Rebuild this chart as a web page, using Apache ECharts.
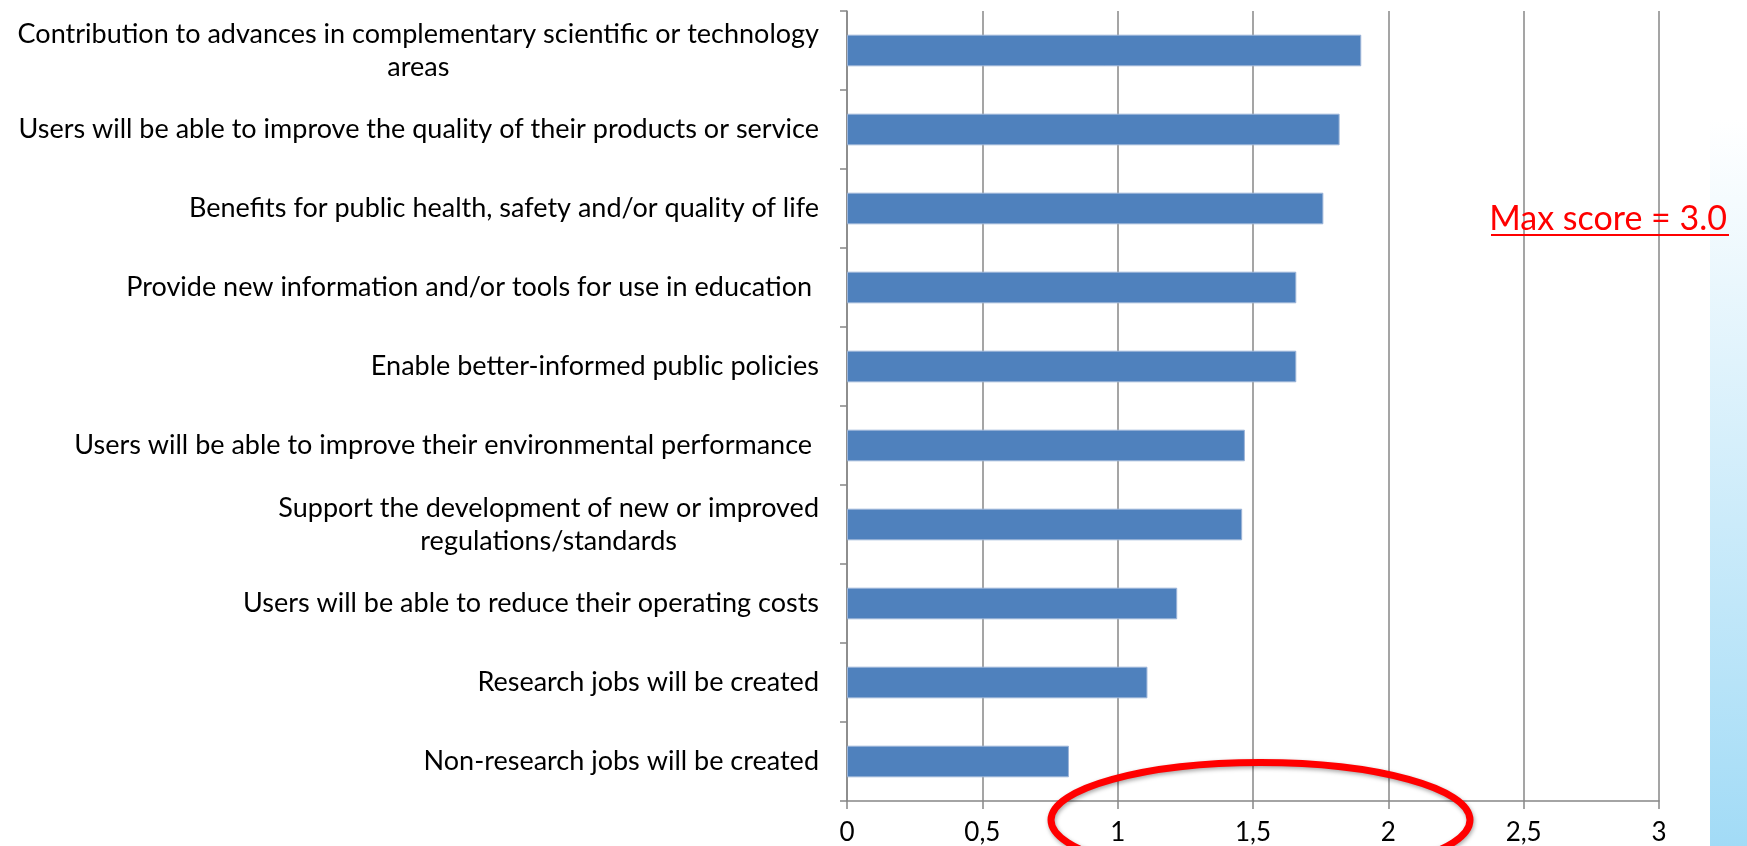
<!DOCTYPE html>
<html>
<head>
<meta charset="utf-8">
<script src="https://cdn.jsdelivr.net/npm/echarts@6/dist/echarts.min.js"></script>
<style>
html,body{margin:0;padding:0;background:#fff;overflow:hidden;}
#chart{width:1747px;height:846px;}
</style>
</head>
<body>
<div id="chart"></div>
<script>
const categories = [
  "Contribution to advances in complementary scientific or technology\nareas",
  "Users will be able to improve the quality of their products or service",
  "Benefits for public health, safety and/or quality of life",
  "Provide new information and/or tools for use in education ",
  "Enable better-informed public policies",
  "Users will be able to improve their environmental performance ",
  "Support the development of new or improved\nregulations/standards",
  "Users will be able to reduce their operating costs",
  "Research jobs will be created",
  "Non-research jobs will be created"
];
const scores = [1.90, 1.82, 1.76, 1.66, 1.66, 1.47, 1.46, 1.22, 1.11, 0.82];
const tickLabels = ["0", "0,5", "1", "1,5", "2", "2,5", "3"];
const axisMin = 0, axisMax = 3, axisStep = 0.5;
const noteText = "Max score = 3.0";

const FONT = "Lato, 'Open Sans', sans-serif";
const chart = echarts.init(document.getElementById('chart'), null, {renderer: 'canvas'});

const option = {
  backgroundColor: '#ffffff',
  animation: false,
  grid: {left: 847, right: 88, top: 11, bottom: 45, containLabel: false},
  xAxis: {
    type: 'value',
    min: axisMin, max: axisMax, interval: axisStep,
    axisLine: {show: true, lineStyle: {color: '#878787', width: 1.5}},
    axisTick: {show: true, length: 8, lineStyle: {color: '#878787', width: 1.5}},
    splitLine: {show: true, lineStyle: {color: '#878787', width: 1.5}},
    axisLabel: {
      margin: 19, color: '#000', fontFamily: FONT, fontSize: 26,
      formatter: function (v) {
        const i = Math.round((v - axisMin) / axisStep);
        return tickLabels[i] !== undefined ? tickLabels[i] : '';
      }
    }
  },
  yAxis: {
    type: 'category',
    data: categories,
    inverse: true,
    axisLine: {show: true, lineStyle: {color: '#878787', width: 1.5}},
    axisTick: {show: true, length: 7, lineStyle: {color: '#878787', width: 1.5}},
    splitLine: {show: false},
    axisLabel: {
      margin: 28, color: '#000', fontFamily: FONT, fontSize: 27, align: 'right',
      formatter: function (v) {
        return v.split('\n').map(function (l) { return '{c|' + l + '}'; }).join('\n');
      },
      rich: {c: {align: 'center', color: '#000', fontFamily: FONT, fontSize: 27, lineHeight: 33}}
    }
  },
  series: [{
    type: 'bar',
    data: scores,
    barCategoryGap: '60%',
    itemStyle: {color: '#4F81BD', borderColor: '#9cb4d8', borderWidth: 1},
    silent: true
  }],
  graphic: {
    elements: [
      {
        type: 'rect', z: 1,
        shape: {x: 1710, y: 120, width: 37, height: 726},
        style: {fill: new echarts.graphic.LinearGradient(0, 0, 0, 1, [
          {offset: 0, color: '#ffffff'},
          {offset: 1, color: '#a2dbf6'}
        ])}
      },
      {
        type: 'text', z: 100,
        style: {text: noteText, x: 1727, y: 219, fill: '#ff0000',
          font: "34px Lato, 'Open Sans', sans-serif", textAlign: 'right', textVerticalAlign: 'middle'}
      },
      {
        type: 'line', z: 100,
        shape: {x1: 1491, y1: 235, x2: 1729, y2: 235},
        style: {stroke: '#ff0000', lineWidth: 2}
      },
      {
        type: 'ellipse', z: 120,
        shape: {cx: 1260.5, cy: 820, rx: 209.5, ry: 57.5},
        style: {fill: 'none', stroke: '#ff0000', lineWidth: 7,
          shadowBlur: 4, shadowColor: 'rgba(0,0,0,0.35)', shadowOffsetX: 1, shadowOffsetY: 2}
      }
    ]
  }
};
chart.setOption(option);
</script>
</body>
</html>
